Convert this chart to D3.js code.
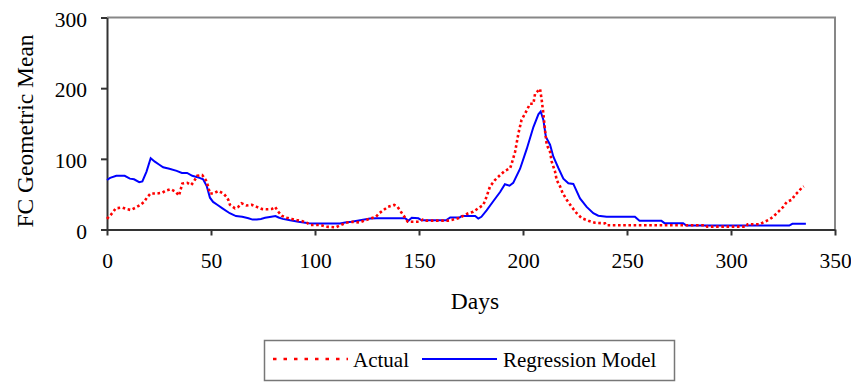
<!DOCTYPE html>
<html lang="en">
	<head>
		<meta charset="utf-8">
		<title>FC Geometric Mean: Actual vs Regression Model</title>
		<script type="text/javascript" src="https://d3js.org/d3.v7.min.js"></script>
		<style type="text/css">
            body { margin: 0; background: #fff; }
            text {
                font-family: "Times New Roman", "Liberation Serif", serif;
                fill: #000;
            }
            .tick text { font-size: 21.5px; }
            .title { font-size: 23.5px; }
            .legend { font-size: 21px; }
		</style>
	</head>
	<body>
		<script type="text/javascript">

            //tick values of both axes
            var xTicks = [0, 50, 100, 150, 200, 250, 300, 350];
            var yTicks = [0, 100, 200, 300];

            //series names
            var seriesNames = ["Actual", "Regression Model"];

            //Actual series (day, value)
            var actualDays = [0, 2.5, 4.2, 7.4, 9.8, 11.4, 13.8, 16.2, 17.8, 19.4, 21, 24.2, 26.6, 28.2, 30.6, 33, 34.6,
                36.2, 38.6, 40.5, 41.8, 43.4, 45.8, 47.5, 48.5, 49.5, 51.1, 53.5, 55.9, 57.5, 58.3, 59.1, 61.5, 63.1,
                64.7, 67.1, 69.6, 72, 74.4, 76.8, 79.2, 80.8, 82.4, 84, 86.4, 88.8, 91.2, 93.6, 96, 97.6, 102.4, 105.3,
                110, 112.5, 114.9, 118.1, 121.3, 124.5, 126.9, 129.3, 130.9, 132.5, 135, 138.1, 139.7, 141.3, 143,
                144.6, 150.2, 151.8, 153.5, 164, 165.7, 169.7, 173.7, 176.1, 178.5, 180.9, 182.5, 184.1, 186.5, 189,
                191.3, 193.8, 194.6, 196.2, 197.8, 199.3, 201, 203.4, 205, 205.8, 208.2, 209, 209.8, 210.6, 211.4,
                213, 213.8, 215.4, 216.2, 217.8, 219, 221, 223.4, 225.8, 228.2, 231.4, 234.6, 239.4, 240, 288, 288.5,
                307.5, 308, 314, 315.5, 318, 320.3, 322.7, 325.1, 326.8, 329.2, 330.8, 332.4, 334, 335];
            var actualValues = [15, 23, 30, 31, 28.6, 27.6, 31, 35, 39, 46, 51, 51, 52, 55, 57, 53.5, 48,
                65, 66, 63, 68, 76, 77, 70, 62, 51, 51, 54.5, 51, 46, 42, 35, 30, 32,
                37, 34, 35, 32, 29, 28.6, 29, 32, 25, 19.5, 16.7, 15, 13.4, 12, 9.6, 6.4, 6.4, 4,
                3, 6.4, 9.6, 11, 10, 13.4, 15.8, 18, 23, 26.6, 32, 34.7, 32, 25, 18,
                11, 11, 14, 12.5, 12.5, 13.4, 16.7, 23, 25, 30, 34.7, 46.4, 60.6, 70, 77,
                83, 86.6, 93.7, 110, 136, 155, 164, 178, 178, 192, 199, 183, 164, 140, 120,
                110, 96, 82, 70, 61, 52, 42, 32, 23, 16, 12.5, 9.6, 8.7, 6, 6, 4,
                4, 7.5, 7.5, 10, 13.4, 18, 25, 32, 39, 42, 49, 53.5, 59, 61];

            //Regression Model series (day, value)
            var modelDays = [0, 1.5, 4.5, 8.5, 11, 13, 15.5, 17, 19, 21, 23, 25, 27, 30, 33.5, 36, 38.5, 41, 44.5,
                46.2, 48, 49.5, 51, 53, 55.5, 59, 62, 65, 68, 70, 72, 74, 76, 79, 81, 82.5, 84.5, 88, 92, 97, 100.5,
                112, 114.5, 117.6, 122.4, 126.5, 129.7, 143.3, 144.9, 146.5, 149.7, 151.3, 163, 165, 169.5, 170.5,
                177, 178.5, 180, 182.5, 185.7, 189, 191.3, 193.5, 195.3, 198.6, 201.8, 205, 207.4, 208.5, 209.8, 211,
                213, 214.6, 217, 219.4, 221.8, 224.2, 227.4, 230.6, 233.8, 236.2, 240.2, 253.8, 256, 266.5, 268, 277,
                278.5, 328, 329.5, 336];
            var modelValues = [70, 73, 76, 76, 72, 71, 67, 68, 82, 101, 96, 92, 88, 86, 83, 80, 80, 76, 73,
                71, 61, 45, 39, 35, 30, 23, 19, 18, 16, 14, 14, 15, 16.5, 18, 19, 17, 15, 13, 11, 9, 8.5,
                8.5, 10, 11, 13.4, 15.5, 16, 16, 12.5, 16.7, 15.8, 13, 13, 17, 17, 19,
                19, 15.5, 18, 27, 40, 53, 64, 62, 66, 86, 114, 145, 163, 167, 155, 131,
                120, 103, 87, 72, 65.4, 64.5, 44, 32, 23, 19.5, 18, 18, 12.5, 12.5, 9, 9,
                5.5, 5.5, 8, 8];

            //Width and height
            var w = 851;
            var h = 382;

            //plot area edges
            var plotLeft = 107, plotRight = 835, plotTop = 17.5, plotBottom = 229.5;

            var x = d3.scaleLinear().domain([0, 350]).range([plotLeft, plotRight]);
            var y = d3.scaleLinear().domain([0, 300]).range([plotBottom, plotTop]);

            //Create SVG element
            var svg = d3.select("body")
                .append("svg")
                .attr("width", w)
                .attr("height", h);

            //grey frame on top and right
            svg.append("path")
                .attr("d", "M" + x(0) + "," + y(300) + "H" + x(350) + "V" + y(0))
                .attr("fill", "none")
                .attr("stroke", "#878787")
                .attr("stroke-width", 2);

            //x axis
            var xAxis = svg.append("g")
                .attr("transform", "translate(0," + y(0) + ")")
                .call(d3.axisBottom(x).tickValues(xTicks).tickSize(6).tickSizeOuter(0));
            xAxis.selectAll("text").attr("y", 38.5).attr("dy", 0);

            //y axis
            var yAxis = svg.append("g")
                .attr("transform", "translate(" + x(0) + ",0)")
                .call(d3.axisLeft(y).tickValues(yTicks).tickSize(6).tickSizeOuter(0));
            yAxis.selectAll("text").attr("x", -20).attr("dy", "0.4em");

            svg.selectAll(".domain, .tick line")
                .attr("stroke", "#333")
                .attr("stroke-width", 2);
            svg.selectAll(".tick text").attr("fill", "#000");

            //line generator
            var line = d3.line()
                .x(function(d) { return x(d[0]); })
                .y(function(d) { return y(d[1]); });

            var actual = actualDays.map(function(d, i) { return [d, actualValues[i]]; });
            var model = modelDays.map(function(d, i) { return [d, modelValues[i]]; });

            svg.append("path")
                .datum(model)
                .attr("d", line)
                .attr("fill", "none")
                .attr("stroke", "#0000ff")
                .attr("stroke-width", 2);

            svg.append("path")
                .datum(actual)
                .attr("d", line)
                .attr("fill", "none")
                .attr("stroke", "#ff0000")
                .attr("stroke-width", 2.6)
                .attr("stroke-dasharray", "2.6,2.6");

            //axis titles
            svg.append("text")
                .attr("class", "title")
                .attr("x", 475)
                .attr("y", 309)
                .attr("text-anchor", "middle")
                .text("Days");

            svg.append("text")
                .attr("class", "title")
                .attr("transform", "translate(33,131) rotate(-90)")
                .attr("text-anchor", "middle")
                .text("FC Geometric Mean");

            //legend
            svg.append("rect")
                .attr("x", 264.5)
                .attr("y", 340.5)
                .attr("width", 410)
                .attr("height", 40)
                .attr("fill", "#fff")
                .attr("stroke", "#777")
                .attr("stroke-width", 1.5);

            var legendItems = [
                {name: seriesNames[0], color: "#ff0000", dash: "3.5,7", width: 2.6, x1: 273, text: 353},
                {name: seriesNames[1], color: "#0000ff", dash: null, width: 2, x1: 422, text: 503}
            ];

            var legend = svg.selectAll("g.legend")
                .data(legendItems)
                .enter().append("g")
                .attr("class", "legend");

            legend.append("line")
                .attr("x1", function(d) { return d.x1; })
                .attr("x2", function(d) { return d.x1 + 75; })
                .attr("y1", 359)
                .attr("y2", 359)
                .attr("stroke", function(d) { return d.color; })
                .attr("stroke-width", function(d) { return d.width; })
                .attr("stroke-dasharray", function(d) { return d.dash; });

            legend.append("text")
                .attr("x", function(d) { return d.text; })
                .attr("y", 367)
                .text(function(d) { return d.name; });

		</script>
	</body>
</html>
